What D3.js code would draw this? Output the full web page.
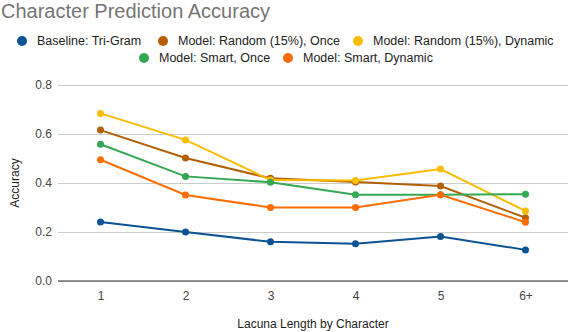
<!DOCTYPE html>
<html>
<head>
<meta charset="utf-8">
<script src="https://cdn.jsdelivr.net/npm/d3@7"></script>
<style>
  body { margin: 0; background: #fff; }
  text { font-family: 'Liberation Sans', Arial, sans-serif; }
</style>
</head>
<body>
<div class="holder"></div>
<script>
const width = 568;
const height = 332;

const lengths = ['1', '2', '3', '4', '5', '6+'];
const seriesNames = [
  'Baseline: Tri-Gram',
  'Model: Random (15%), Once',
  'Model: Random (15%), Dynamic',
  'Model: Smart, Once',
  'Model: Smart, Dynamic'
];
const triGram = [0.241, 0.2, 0.16, 0.152, 0.182, 0.127];
const randomOnce = [0.616, 0.502, 0.419, 0.404, 0.388, 0.258];
const randomDynamic = [0.684, 0.576, 0.412, 0.41, 0.457, 0.286];
const smartOnce = [0.558, 0.427, 0.403, 0.352, 0.352, 0.354];
const smartDynamic = [0.495, 0.351, 0.3, 0.3, 0.352, 0.24];
const yTicks = [0, 0.2, 0.4, 0.6, 0.8];
const colors = ['#0b5394', '#b45f06', '#fbbc04', '#34a853', '#ff6d01'];

const seriesData = [triGram, randomOnce, randomDynamic, smartOnce, smartDynamic];

const svg = d3
  .select('.holder')
  .append('svg')
  .attr('width', width)
  .attr('height', height);

const xScale = d3.scalePoint()
  .domain(lengths)
  .range([58, 568])
  .padding(0.5);

const yScale = d3.scaleLinear()
  .domain([0, 0.8])
  .range([281, 85]);

// title
svg.append('text')
  .attr('x', 1)
  .attr('y', 18)
  .attr('font-size', 20)
  .attr('fill', '#757575')
  .text('Character Prediction Accuracy');

// legend
const legendPos = [
  [22, 41], [163, 41], [358, 41],
  [144, 58], [288, 58]
];
const legend = svg.append('g');
seriesNames.forEach((name, i) => {
  legend.append('circle')
    .attr('cx', legendPos[i][0])
    .attr('cy', legendPos[i][1])
    .attr('r', 5)
    .attr('fill', colors[i]);
  legend.append('text')
    .attr('x', legendPos[i][0] + 15)
    .attr('y', legendPos[i][1] + 4)
    .attr('font-size', 12.5)
    .attr('fill', '#222')
    .text(name);
});

// grid + y axis
const yAxis = d3.axisLeft(yScale)
  .tickValues(yTicks)
  .tickFormat(d3.format('.1f'))
  .tickSize(-(568 - 58))
  .tickPadding(6);

const gy = svg.append('g')
  .attr('transform', 'translate(58,0)')
  .call(yAxis);
gy.select('.domain').remove();
gy.selectAll('.tick line').attr('stroke', '#cccccc');
gy.selectAll('.tick text')
  .attr('font-size', 12)
  .attr('fill', '#444')
  .attr('font-family', "'Liberation Sans', Arial, sans-serif");

// x axis
const xAxis = d3.axisBottom(xScale).tickSize(0).tickPadding(10);
const gx = svg.append('g')
  .attr('transform', 'translate(0,281)')
  .call(xAxis);
gx.select('.domain').attr('stroke', '#333').attr('d', 'M58,0H568');
gx.selectAll('.tick text')
  .attr('font-size', 12)
  .attr('fill', '#444')
  .attr('font-family', "'Liberation Sans', Arial, sans-serif");

// axis titles
svg.append('text')
  .attr('transform', 'rotate(-90)')
  .attr('x', -183)
  .attr('y', 19)
  .attr('text-anchor', 'middle')
  .attr('font-size', 12)
  .attr('fill', '#222')
  .text('Accuracy');

svg.append('text')
  .attr('x', 313)
  .attr('y', 328)
  .attr('text-anchor', 'middle')
  .attr('font-size', 12)
  .attr('fill', '#222')
  .text('Lacuna Length by Character');

// lines
const line = d3.line()
  .x((d, i) => xScale(lengths[i]))
  .y(d => yScale(d));

seriesData.forEach((vals, s) => {
  svg.append('path')
    .datum(vals)
    .attr('fill', 'none')
    .attr('stroke', colors[s])
    .attr('stroke-width', 2)
    .attr('d', line);
  svg.append('g')
    .selectAll('circle')
    .data(vals)
    .enter()
    .append('circle')
    .attr('cx', (d, i) => xScale(lengths[i]))
    .attr('cy', d => yScale(d))
    .attr('r', 3.5)
    .attr('fill', colors[s]);
});
</script>
</body>
</html>
